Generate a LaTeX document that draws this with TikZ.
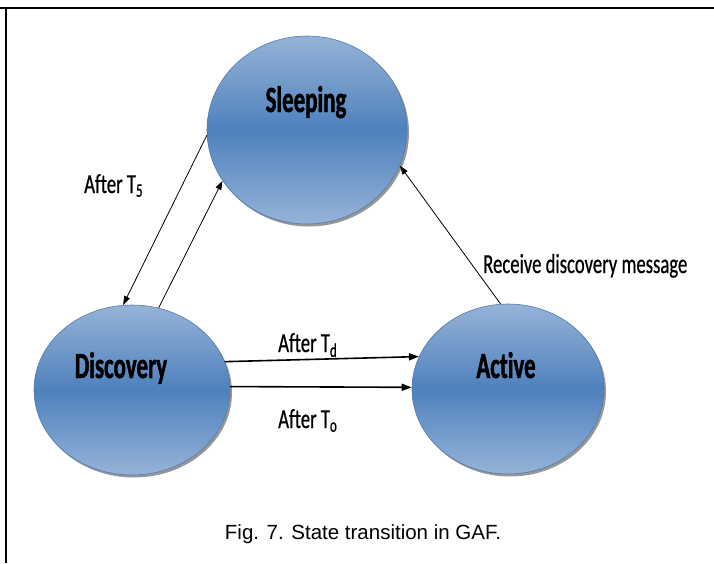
\documentclass[tikz,border=0pt]{standalone}
\usepackage{fontspec}
\setmainfont{Liberation Sans}
\newfontfamily\statefont[FakeStretch=0.62,FakeBold=1.2,Ligatures={NoCommon,NoContextual}]{Carlito}
\newfontfamily\labelfont[FakeStretch=0.68,FakeBold=0.6,Ligatures={NoCommon,NoContextual}]{Carlito}
\usetikzlibrary{shapes.geometric,arrows.meta,shadows}

\definecolor{statelight}{HTML}{95B3D7}
\definecolor{statemid}{HTML}{4F81BD}
\definecolor{statedge}{HTML}{5479AD}

\begin{document}
\begin{tikzpicture}[x=1pt,y=-1pt,
  state/.style={ellipse, draw=statedge, line width=0.6pt,
    top color=statelight, bottom color=statelight, middle color=statemid,
    drop shadow={shadow xshift=2pt, shadow yshift=-2.5pt, opacity=0.55, fill=black!75},
    inner sep=0pt},
  statetext/.style={font=\statefont\bfseries\fontsize{37}{40}\selectfont, inner sep=0pt, anchor=base},
  lbl/.style={font=\labelfont\fontsize{27.5}{30}\selectfont, inner sep=0pt, anchor=base west},
  thinarrow/.style={-{Triangle[length=9pt,width=6pt]}, line width=0.8pt},
  thickarrow/.style={-{Triangle[length=10pt,width=7pt]}, line width=1.6pt}
]
\useasboundingbox (0,0) rectangle (714,563);

% frame: top and left rules
\draw[line width=2pt] (0,8) -- (714,8);
\draw[line width=2pt] (5.5,7) -- (5.5,563);

% states
\node[state, minimum width=200pt, minimum height=188pt] (sleep) at (307,130) {};
\node[state, minimum width=196pt, minimum height=170pt] (disc) at (132,390) {};
\node[state, minimum width=192pt, minimum height=170pt] (active) at (508,389) {};

\node[statetext] (sleeplbl) at (306,112) {Sleeping};
\node[statetext] (disclbl) at (121,378) {Discovery};
\node[statetext] (activelbl) at (506,378) {Act\kern0pt ive};

% transitions
\draw[thinarrow] (sleep.183) -- (disc.96);
\draw[thinarrow] (disc.72) -- (sleep.211);
\draw[thinarrow] (active.95) -- (sleep.339);
\draw[thickarrow] (disc.17) -- (active.160);
\draw[thickarrow] (disc.2) -- (active.179);

% transition labels
\node[lbl] (t5) at (84,193) {After T\textsubscript{5}};
\node[lbl] (td) at (278,352) {After T\textsubscript{d}};
\node[lbl] (to) at (278,428) {After T\textsubscript{o}};
\node[lbl] (recv) at (483,273) {Receive discovery message};

% caption
\node[font=\fontsize{20.5}{23}\selectfont, inner sep=0pt] (cap) at (363,534) {Fig. 7. State transition in GAF.};
\end{tikzpicture}
\end{document}
